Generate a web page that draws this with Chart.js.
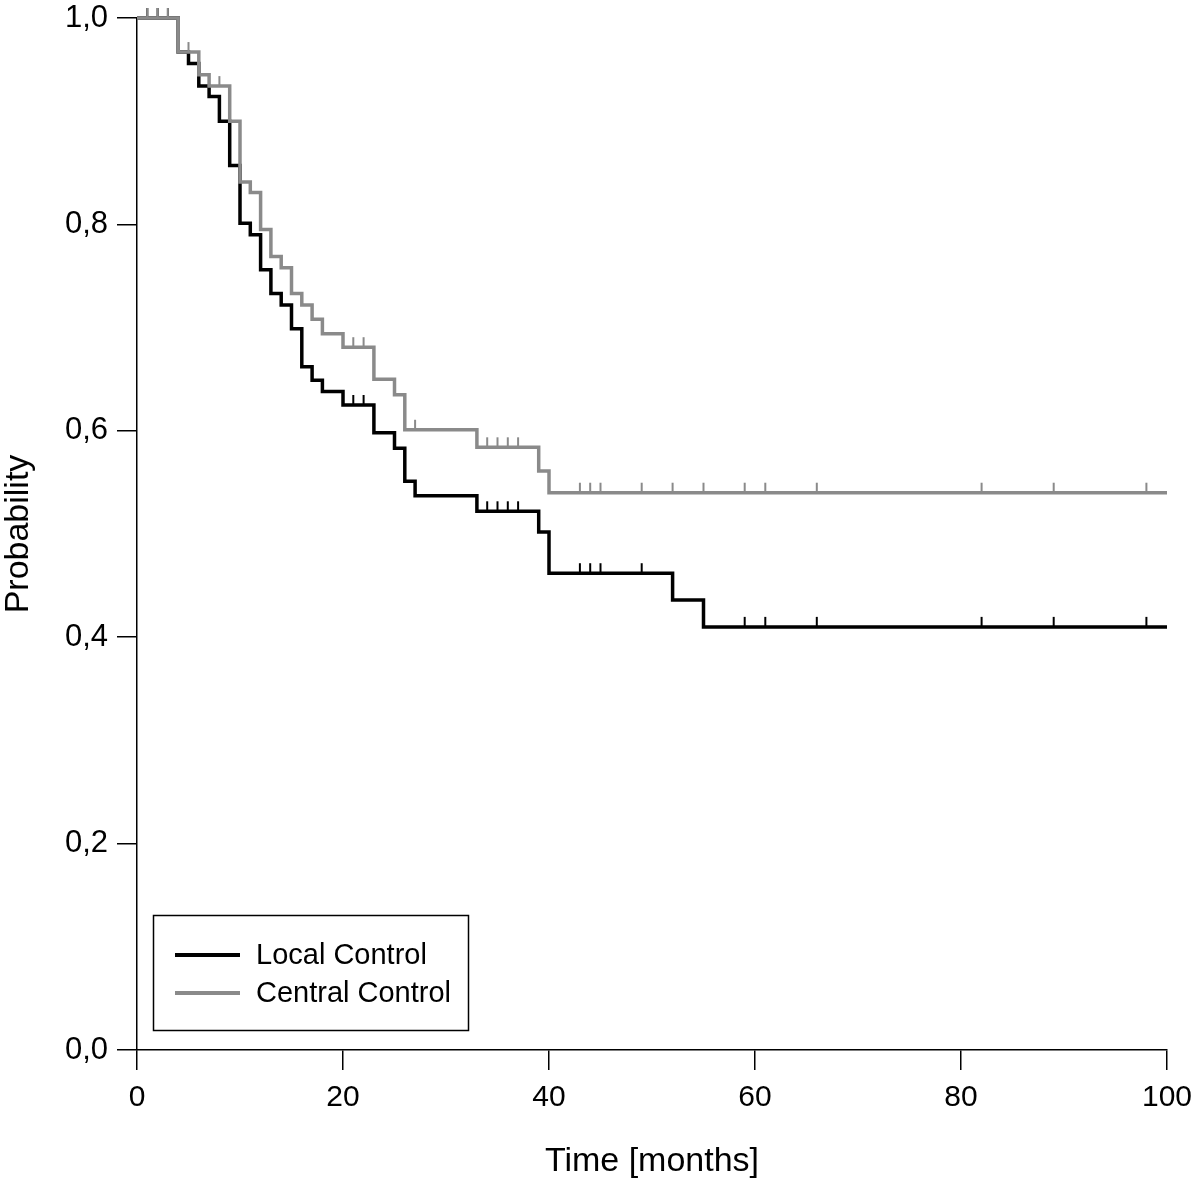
<!DOCTYPE html>
<html>
<head>
<meta charset="utf-8">
<script src="https://cdn.jsdelivr.net/npm/chart.js@4.4.1/dist/chart.umd.min.js"></script>
<style>
  html, body { margin: 0; padding: 0; background: #fff; }
  canvas { display: block; }
</style>
</head>
<body>
<canvas id="kmChart" width="1200" height="1183"></canvas>
<script>
// Kaplan-Meier curves (time in months, probability)
const localTimes = [0, 4, 5, 6, 7, 8, 9, 10, 11, 12, 13, 14, 15, 16, 17, 18, 20, 23, 25, 26, 27, 33, 39, 40, 52, 55, 100];
const localSurv = [1.0, 0.967, 0.956, 0.934, 0.924, 0.900, 0.857, 0.801, 0.790, 0.756, 0.733, 0.722, 0.699, 0.662, 0.649, 0.638, 0.625, 0.598, 0.583, 0.551, 0.537, 0.522, 0.502, 0.462, 0.436, 0.410, 0.410];
const localCensored = [1, 2, 3, 21, 22, 34, 35, 36, 37, 43, 44, 45, 49, 59, 61, 66, 82, 89, 98];

const centralTimes = [0, 4, 6, 7, 9, 10, 11, 12, 13, 14, 15, 16, 17, 18, 20, 23, 25, 26, 33, 39, 40, 100];
const centralSurv = [1.0, 0.967, 0.945, 0.934, 0.900, 0.841, 0.831, 0.795, 0.769, 0.758, 0.733, 0.722, 0.708, 0.694, 0.681, 0.650, 0.635, 0.601, 0.584, 0.561, 0.540, 0.540];
const centralCensored = [1, 2, 3, 5, 8, 21, 22, 27, 34, 35, 36, 37, 43, 44, 45, 49, 52, 55, 59, 61, 66, 82, 89, 98];

const xTicks = [0, 20, 40, 60, 80, 100];
const yTicks = [0, 0.2, 0.4, 0.6, 0.8, 1.0];

const seriesLabels = ['Local Control', 'Central Control'];
const BLACK = '#000000';
const GREY = '#8a8a8a';
const FONT = '"Liberation Sans", Arial, sans-serif';

// value of the step curve at time t (censor marks sit on the curve)
function levelAt(times, surv, t) {
    let v = surv[0];
    for (let i = 0; i < times.length; i++) {
        if (times[i] <= t) v = surv[i];
    }
    return v;
}

const toPoints = (xs, ys) => xs.map((x, i) => ({ x: x, y: ys[i] }));
const censorPoints = (cs, xs, ys) => cs.map((t) => ({ x: t, y: levelAt(xs, ys, t) }));

// legend drawn as a framed box in the lower left corner of the plot
const boxLegend = {
    id: 'boxLegend',
    afterDraw(chart) {
        const ctx = chart.ctx;
        const items = chart.data.datasets.filter((d) => d.inLegend);
        ctx.save();
        ctx.strokeStyle = BLACK;
        ctx.lineWidth = 1.5;
        ctx.strokeRect(153.5, 915.5, 315, 115);
        ctx.font = '29px ' + FONT;
        ctx.textBaseline = 'middle';
        items.forEach((d, i) => {
            const y = 955 + i * 38;
            ctx.strokeStyle = d.borderColor;
            ctx.lineWidth = 4;
            ctx.beginPath();
            ctx.moveTo(175, y);
            ctx.lineTo(240, y);
            ctx.stroke();
            ctx.fillStyle = BLACK;
            ctx.fillText(d.label, 256, y + 1);
        });
        ctx.restore();
    }
};

const noEdgePadding = (scale) => {
    scale.paddingTop = 0;
    scale.paddingBottom = 0;
    scale.paddingLeft = 0;
    scale.paddingRight = 0;
};

const ctx = document.getElementById('kmChart');
new Chart(ctx, {
    type: 'line',
    data: {
        datasets: [
            {
                label: seriesLabels[0],
                inLegend: true,
                data: toPoints(localTimes, localSurv),
                borderColor: BLACK,
                borderWidth: 3.5,
                stepped: true,
                pointRadius: 0,
                fill: false,
                clip: false,
                order: 2
            },
            {
                label: seriesLabels[0] + ' censored',
                type: 'scatter',
                data: censorPoints(localCensored, localTimes, localSurv),
                pointStyle: 'dash',
                rotation: -90,
                radius: 10,
                borderColor: BLACK,
                borderWidth: 2,
                showLine: false,
                clip: false,
                order: 2
            },
            {
                label: seriesLabels[1],
                inLegend: true,
                data: toPoints(centralTimes, centralSurv),
                borderColor: GREY,
                borderWidth: 3.5,
                stepped: true,
                pointRadius: 0,
                fill: false,
                clip: false,
                order: 1
            },
            {
                label: seriesLabels[1] + ' censored',
                type: 'scatter',
                data: censorPoints(centralCensored, centralTimes, centralSurv),
                pointStyle: 'dash',
                rotation: -90,
                radius: 10,
                borderColor: GREY,
                borderWidth: 2,
                showLine: false,
                clip: false,
                order: 1
            }
        ]
    },
    options: {
        responsive: false,
        animation: false,
        events: [],
        layout: { padding: { top: 18, right: 33, left: 0, bottom: 0 } },
        plugins: {
            legend: { display: false },
            tooltip: { enabled: false }
        },
        scales: {
            x: {
                type: 'linear',
                min: 0,
                max: 100,
                afterBuildTicks: (scale) => { scale.ticks = xTicks.map((v) => ({ value: v })); },
                afterFit: (scale) => { scale.height = 133; noEdgePadding(scale); },
                border: { display: true, color: BLACK, width: 1.5 },
                grid: { drawOnChartArea: false, drawTicks: true, tickLength: 20, color: BLACK, lineWidth: 1.5 },
                ticks: {
                    color: BLACK,
                    padding: 10,
                    maxRotation: 0,
                    autoSkip: false,
                    font: { family: FONT, size: 30 },
                    callback: (v) => String(v)
                },
                title: {
                    display: true,
                    text: 'Time [months]',
                    color: BLACK,
                    font: { family: FONT, size: 34, lineHeight: 1.2 },
                    padding: { top: 0, bottom: 1 }
                }
            },
            y: {
                type: 'linear',
                min: 0,
                max: 1,
                afterBuildTicks: (scale) => { scale.ticks = yTicks.map((v) => ({ value: v })); },
                afterFit: (scale) => { scale.width = 137; noEdgePadding(scale); },
                border: { display: true, color: BLACK, width: 1.5 },
                grid: { drawOnChartArea: false, drawTicks: true, tickLength: 20, color: BLACK, lineWidth: 1.5 },
                ticks: {
                    color: BLACK,
                    padding: 9,
                    autoSkip: false,
                    font: { family: FONT, size: 31 },
                    callback: (v) => v.toFixed(1).replace('.', ',')
                },
                title: {
                    display: true,
                    text: 'Probability',
                    color: BLACK,
                    font: { family: FONT, size: 34, lineHeight: 1.1 },
                    padding: 0
                }
            }
        }
    },
    plugins: [boxLegend]
});
</script>
</body>
</html>
